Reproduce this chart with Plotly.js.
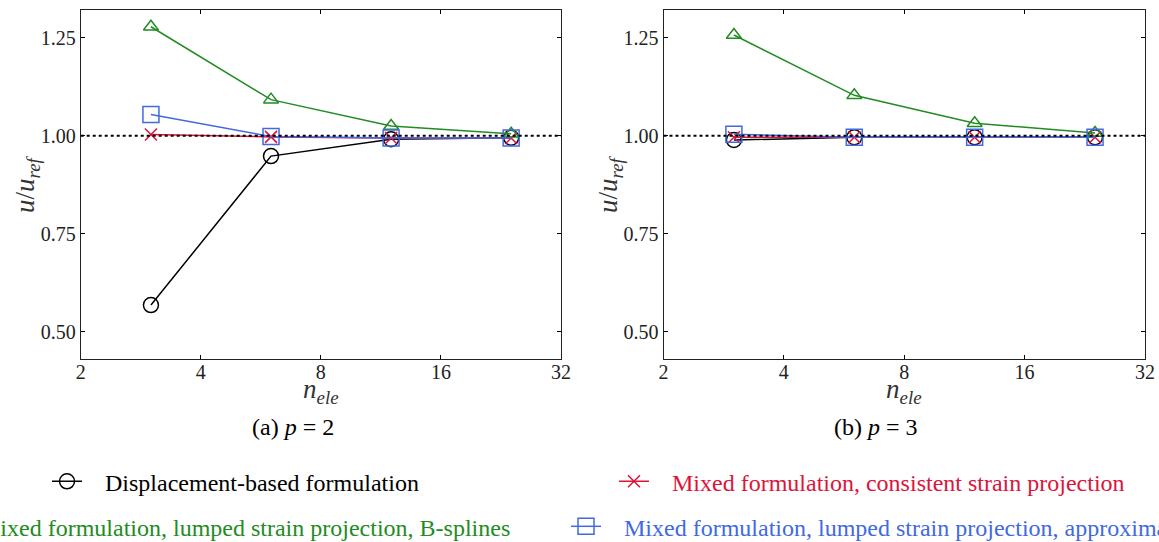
<!DOCTYPE html>
<html><head><meta charset="utf-8">
<script src="https://cdn.plot.ly/plotly-3.0.1.min.js"></script>
<style>html,body{margin:0;padding:0;background:#fff;}</style>
</head><body><div id="chart" style="width:1159px;height:542px;"></div>
<script>
// ---- data ----
const nEle = [3, 6, 12, 24];
const dispP2 = [0.568, 0.948, 0.991, 0.995];
const consP2 = [1.003, 0.997, 0.994, 0.994];
const bsplP2 = [1.278, 1.092, 1.025, 1.005];
const apprP2 = [1.054, 0.998, 0.994, 0.994];
const dispP3 = [0.989, 0.996, 0.996, 0.996];
const consP3 = [0.996, 0.996, 0.996, 0.996];
const bsplP3 = [1.257, 1.103, 1.032, 1.007];
const apprP3 = [1.004, 0.996, 0.996, 0.996];
const refValue = 1.0;
const xTicks = [2, 4, 8, 16, 32];
const xTickText = ['2', '4', '8', '16', '32'];
const yTicks = [0.5, 0.75, 1.0, 1.25];
const yTickText = ['0.50', '0.75', '1.00', '1.25'];
const seriesNames = [
  'Displacement-based formulation',
  'Mixed formulation, consistent strain projection',
  'Mixed formulation, lumped strain projection, B-splines',
  'Mixed formulation, lumped strain projection, approximation'
];
const captions = ['(a) <i>p</i> = 2', '(b) <i>p</i> = 3'];
const xTitle = '<i>n</i><sub><i>ele</i></sub>';
const yTitle = '<i>u</i>/<i>u</i><sub><i>ref</i></sub>';

// ---- styles ----
const W = 1159, H = 542;
const colors = ['#000000', '#dc143c', '#228b22', '#4169e1'];
const symbols = ['circle-open', 'x-thin-open', 'triangle-up-open', 'square-open'];
const sizes = [15, 12, 13, 16];
const legendNames = ['legend', 'legend2', 'legend3', 'legend4'];
const pad = '\u00a0\u00a0\u00a0';
const serif = 'Liberation Serif, Times New Roman, serif';

const panels = [
  {data: [dispP2, consP2, bsplP2, apprP2], xa: 'x', ya: 'y', show: true},
  {data: [dispP3, consP3, bsplP3, apprP3], xa: 'x2', ya: 'y2', show: false}
];
const traces = [];
panels.forEach(p => {
  p.data.forEach((ys, i) => {
    traces.push({
      x: nEle, y: ys, xaxis: p.xa, yaxis: p.ya, type: 'scatter', mode: 'lines+markers',
      name: pad + '<span style="color:' + colors[i] + '">' + seriesNames[i] + '</span>',
      legend: legendNames[i], showlegend: p.show,
      line: {color: colors[i], width: 1.5},
      marker: {symbol: symbols[i], size: sizes[i], color: colors[i], line: {color: colors[i], width: 1.5}}
    });
  });
});

const fontTick = {family: serif, size: 20, color: '#222'};
function xax(domain, anchor) {
  return {domain: domain, anchor: anchor, type: 'log', range: [Math.log10(2), Math.log10(32)],
    tickvals: xTicks, ticktext: xTickText, ticks: 'inside', ticklen: 4, tickcolor: '#000',
    showline: true, linecolor: '#222', linewidth: 1, mirror: 'ticks', showgrid: false, zeroline: false,
    tickfont: fontTick, ticklabelstandoff: -5};
}
function yax(domain, anchor) {
  return {domain: domain, anchor: anchor, range: [0.4304, 1.3207],
    tickvals: yTicks, ticktext: yTickText, ticks: 'inside', ticklen: 4, tickcolor: '#000',
    showline: true, linecolor: '#222', linewidth: 1, mirror: 'ticks', showgrid: false, zeroline: false,
    tickfont: fontTick};
}
const yDom = [1 - 359 / H, 1 - 10 / H];
const legFont = {family: serif, size: 24, color: '#000'};
function leg(px, py) {
  return {x: px / W, y: 1 - py / H, xref: 'paper', yref: 'paper', xanchor: 'left', yanchor: 'middle',
    orientation: 'h', bgcolor: 'rgba(0,0,0,0)', borderwidth: 0, font: legFont, itemsizing: 'trace'};
}
const titleFont = {family: serif, size: 27, color: '#333'};
function ann(text, px, py, font, angle) {
  return {text: text, xref: 'paper', yref: 'paper', x: px / W, y: 1 - py / H, xanchor: 'center', yanchor: 'middle',
    showarrow: false, font: font, textangle: angle || 0};
}
const annotations = [
  ann(captions[0], 293, 427, {family: serif, size: 24, color: '#000'}),
  ann(captions[1], 876, 427, {family: serif, size: 24, color: '#000'}),
  ann(xTitle, 321, 391, titleFont),
  ann(xTitle, 904, 391, titleFont),
  ann(yTitle, 27, 184, titleFont, -90),
  ann(yTitle, 610, 184, titleFont, -90)
];
const layout = {
  width: W, height: H, margin: {l: 0, r: 0, t: 0, b: 0, autoexpand: false},
  paper_bgcolor: '#fff', plot_bgcolor: '#fff',
  xaxis: xax([80.7 / W, 561 / W], 'y'),
  yaxis: yax(yDom, 'x'),
  xaxis2: xax([663.5 / W, 1145 / W], 'y2'),
  yaxis2: yax(yDom, 'x2'),
  shapes: [0, 1].map(k => ({type: 'line', xref: (k ? 'x2' : 'x') + ' domain', x0: 0, x1: 1,
    yref: k ? 'y2' : 'y', y0: refValue, y1: refValue, line: {color: '#000', width: 2, dash: 'dot'}})),
  annotations: annotations,
  legend: leg(47, 481.7),
  legend2: leg(614, 481.7),
  legend3: leg(-79, 526.7),
  legend4: leg(566, 526.7),
  showlegend: true
};
Plotly.newPlot('chart', traces, layout, {displayModeBar: false, staticPlot: true});
</script></body></html>
